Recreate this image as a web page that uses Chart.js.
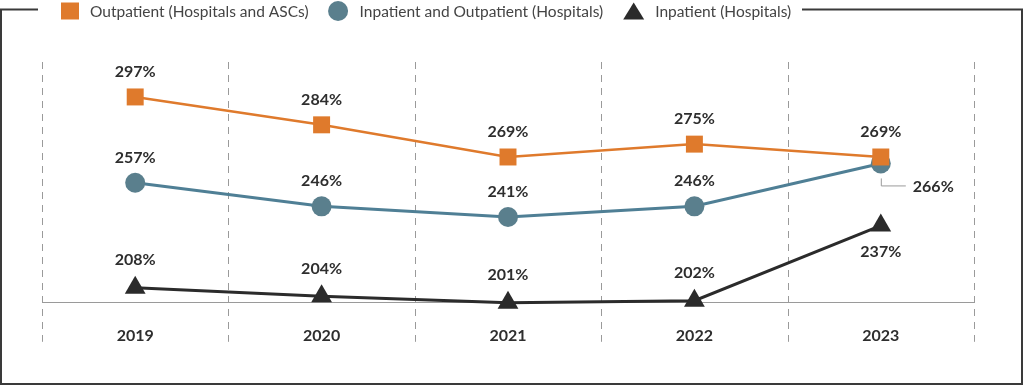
<!DOCTYPE html>
<html>
<head>
<meta charset="utf-8">
<script src="https://cdn.jsdelivr.net/npm/chart.js@4/dist/chart.umd.min.js"></script>
<style>
  html, body { margin: 0; padding: 0; background: #fff; }
  #wrap { width: 1024px; height: 386px; position: relative; }
</style>
</head>
<body>
<div id="wrap"><canvas id="chart"></canvas></div>
<script>
// データ
const years = ["2019", "2020", "2021", "2022", "2023"];
const outpatientAll = [297, 284, 269, 275, 269];   // Outpatient (Hospitals and ASCs)
const inOutHosp     = [257, 246, 241, 246, 266];   // Inpatient and Outpatient (Hospitals)
const inpatientHosp = [208, 204, 201, 202, 237];   // Inpatient (Hospitals)

const seriesNames = [
  "Outpatient (Hospitals and ASCs)",
  "Inpatient and Outpatient (Hospitals)",
  "Inpatient (Hospitals)"
];

const ORANGE = "#DF7A2C";
const TEAL   = "#5A7F8D";
const TEAL_LINE = "#4F7F95";
const DARK   = "#2B2B2B";
const FONT   = "Lato, 'Open Sans', sans-serif";

// ラベルの置き方（上 / 下 / 右のリーダー線付き）
const labelPlace = [
  ["up", "up", "up", "up", "up"],
  ["up", "up", "up", "up", "leader"],
  ["up", "up", "up", "up", "down"]
];

// 枠・点線・凡例を描くプラグイン
const framePlugin = {
  id: "frame",
  beforeDraw(chart) {
    const { ctx, chartArea, scales: { x } } = chart;
    ctx.save();
    // 外枠
    ctx.strokeStyle = "#3a3a3a";
    ctx.lineWidth = 2;
    ctx.strokeRect(1, 9.5, 1021, 374.5);
    // 縦の点線（カテゴリ境界）
    const half = (x.getPixelForValue(1) - x.getPixelForValue(0)) / 2;
    ctx.strokeStyle = "#9a9a9a";
    ctx.lineWidth = 1;
    ctx.setLineDash([7, 6]);
    for (let i = 0; i <= years.length; i++) {
      const px = Math.round(x.getPixelForValue(0) - half + i * half * 2) + 0.5;
      ctx.beginPath();
      ctx.moveTo(px, chartArea.top);
      ctx.lineTo(px, chartArea.bottom + 39);
      ctx.stroke();
    }
    ctx.restore();
  },
  afterDraw(chart) {
    const { ctx } = chart;
    ctx.save();
    // 凡例の背景（枠線を隠す）
    ctx.fillStyle = "#fff";
    ctx.fillRect(38, 0, 764, 22);
    ctx.font = "15.5px " + FONT;
    ctx.textBaseline = "middle";
    let cx = 61;
    const cy = 11;
    chart.data.datasets.forEach((ds, i) => {
      ctx.fillStyle = ds.pointBackgroundColor;
      ctx.beginPath();
      if (ds.pointStyle === "rect") {
        ctx.rect(cx, cy - 8.5, 18, 17);
      } else if (ds.pointStyle === "circle") {
        ctx.arc(cx + 9.5, cy, 10, 0, Math.PI * 2);
      } else {
        ctx.moveTo(cx + 10.5, cy - 8.5);
        ctx.lineTo(cx + 21, cy + 8.5);
        ctx.lineTo(cx, cy + 8.5);
        ctx.closePath();
      }
      ctx.fill();
      const mw = ds.pointStyle === "triangle" ? 21 : (ds.pointStyle === "circle" ? 20 : 18);
      cx += mw + 11;
      ctx.fillStyle = "#444";
      ctx.fillText(ds.label, cx, cy + 1);
      cx += ctx.measureText(ds.label).width + 20;
    });

    // 値ラベル
    ctx.font = "bold 16px " + FONT;
    ctx.fillStyle = "#2e2e2e";
    ctx.textAlign = "center";
    chart.data.datasets.forEach((ds, di) => {
      const meta = chart.getDatasetMeta(di);
      meta.data.forEach((pt, j) => {
        const txt = ds.data[j] + "%";
        const place = labelPlace[di][j];
        const upOff = ds.pointStyle === "triangle" ? 28 : 25;
        if (place === "up") {
          ctx.fillText(txt, pt.x, pt.y - upOff);
        } else if (place === "down") {
          ctx.fillText(txt, pt.x, pt.y + 26);
        } else {
          ctx.strokeStyle = "#9a9a9a";
          ctx.lineWidth = 1;
          ctx.beginPath();
          ctx.moveTo(pt.x + 0.5, pt.y + 15);
          ctx.lineTo(pt.x + 0.5, pt.y + 22.5);
          ctx.lineTo(pt.x + 25, pt.y + 22.5);
          ctx.stroke();
          ctx.textAlign = "left";
          ctx.fillText(txt, pt.x + 32, pt.y + 23);
          ctx.textAlign = "center";
        }
      });
    });
    ctx.restore();
  }
};

new Chart(document.getElementById("chart"), {
  type: "line",
  data: {
    labels: years,
    datasets: [
      {
        label: seriesNames[0], data: outpatientAll, clip: false,
        borderColor: ORANGE, borderWidth: 2.5,
        pointStyle: "rect", pointRadius: 12, pointHoverRadius: 12,
        pointBackgroundColor: ORANGE, pointBorderWidth: 0
      },
      {
        label: seriesNames[1], data: inOutHosp, clip: false,
        borderColor: TEAL_LINE, borderWidth: 3,
        pointStyle: "circle", pointRadius: 10, pointHoverRadius: 10,
        pointBackgroundColor: TEAL, pointBorderWidth: 0
      },
      {
        label: seriesNames[2], data: inpatientHosp, clip: false,
        borderColor: DARK, borderWidth: 3,
        pointStyle: "triangle", pointRadius: 12, pointHoverRadius: 12,
        pointBackgroundColor: DARK, pointBorderWidth: 0
      }
    ]
  },
  options: {
    responsive: true,
    maintainAspectRatio: false,
    animation: false,
    layout: { padding: { left: 42, right: 50, top: 62, bottom: 26 } },
    plugins: { legend: { display: false }, tooltip: { enabled: false } },
    scales: {
      x: {
        offset: true,
        grid: { display: false },
        border: { display: true, color: "#9a9a9a", width: 1 },
        ticks: { padding: 15, color: "#2e2e2e", font: { family: FONT, size: 16, weight: "bold" } }
      },
      y: {
        display: false,
        min: 201,
        max: 313.3
      }
    }
  },
  plugins: [framePlugin]
});
</script>
</body>
</html>
